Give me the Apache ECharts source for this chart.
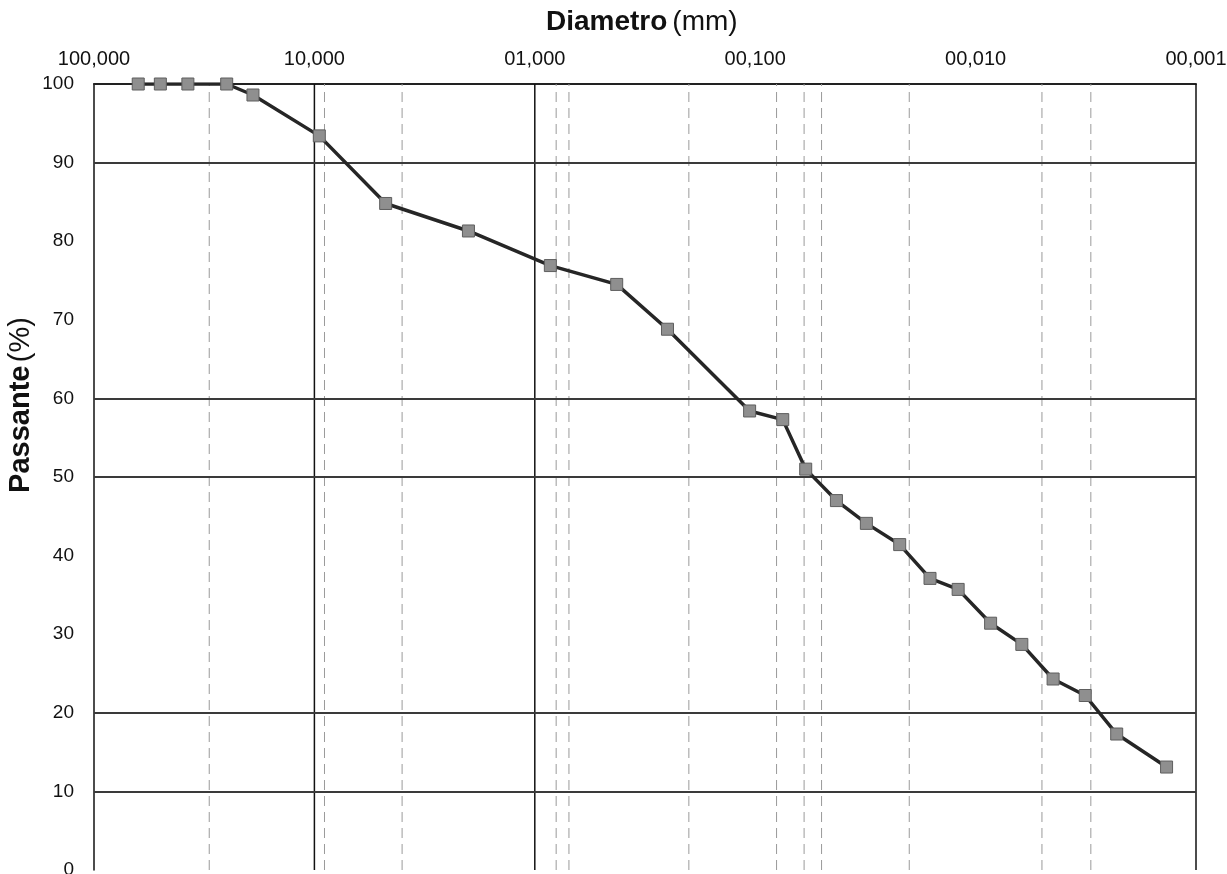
<!DOCTYPE html>
<html>
<head>
<meta charset="utf-8">
<script src="https://cdn.jsdelivr.net/npm/echarts@6/dist/echarts.min.js"></script>
<style>
html,body{margin:0;padding:0;background:#fff;}
#chart{width:1227px;height:874px;}
</style>
</head>
<body>
<div id="chart"></div>
<script>
// Grain size (mm) and percent passing
const diameters = [63, 50, 37.5, 25, 19, 9.5, 4.75, 2.0, 0.85, 0.425, 0.25, 0.106, 0.075,
  0.059, 0.0428, 0.0313, 0.0221, 0.0161, 0.0120, 0.00855, 0.00617, 0.00445, 0.00318, 0.00229, 0.00136];
const passing = [100, 100, 100, 100, 98.6, 93.4, 84.8, 81.3, 76.9, 74.5, 68.8, 58.4, 57.3,
  51.0, 47.0, 44.1, 41.4, 37.1, 35.7, 31.4, 28.7, 24.3, 22.2, 17.3, 13.1];

// Axis tick labels (by decade exponent -3..2)
const xTickLabels = ['00,001', '00,010', '00,100', '01,000', '10,000', '100,000'];
const yTicks = [0, 10, 20, 30, 40, 50, 60, 70, 80, 90, 100];

// Reference grid lines drawn on the chart
const majorVLines = [10, 1, 0.001];
const minorVLines = [30, 9, 4, 0.8, 0.7, 0.2, 0.08, 0.06, 0.05, 0.02, 0.005, 0.003];
const hLines = [90, 60, 50, 20, 10];

const chart = echarts.init(document.getElementById('chart'), null, {renderer: 'canvas'});
const FONT = '"Liberation Sans", Arial, sans-serif';
const yMin = yTicks[0], yMax = yTicks[yTicks.length - 1];

function vLineSeries(v, style) {
  return {
    type: 'line',
    data: [[v, yMin], [v, yMax]],
    symbol: 'none',
    silent: true,
    animation: false,
    lineStyle: style,
    z: 1
  };
}

const gridSeries = []
  .concat(majorVLines.map(v => vLineSeries(v, {color: '#111', width: 1.5, type: 'solid'})))
  .concat(minorVLines.map(v => vLineSeries(v, {color: '#9a9a9a', width: 1, type: [10, 6]})));

chart.setOption({
  backgroundColor: '#ffffff',
  animation: false,
  title: {
    text: '{b|Diametro} {n|(mm)}',
    left: 541,
    top: 3,
    textStyle: {
      rich: {
        b: {fontFamily: FONT, fontSize: 28, fontWeight: 'bold', color: '#111'},
        n: {fontFamily: FONT, fontSize: 28, fontWeight: 'normal', color: '#111'}
      }
    }
  },
  graphic: [{
    type: 'text',
    x: 21,
    y: 405,
    rotation: Math.PI / 2,
    style: {
      text: '{b|Passante} {n|(%)}',
      align: 'center',
      verticalAlign: 'middle',
      rich: {
        b: {fontFamily: FONT, fontSize: 29, fontWeight: 'bold', fill: '#111'},
        n: {fontFamily: FONT, fontSize: 29, fontWeight: 'normal', fill: '#111'}
      }
    }
  }],
  grid: {left: 94, right: 31, top: 84, bottom: 4, containLabel: false, outerBoundsMode: 'none'},
  xAxis: {
    type: 'log',
    logBase: 10,
    min: 0.001,
    max: 100,
    inverse: true,
    position: 'top',
    axisLine: {show: true, onZero: false, lineStyle: {color: '#222', width: 2}},
    axisTick: {show: false},
    splitLine: {show: false},
    minorSplitLine: {show: false},
    axisLabel: {
      margin: 15,
      fontFamily: FONT,
      fontSize: 20,
      color: '#111',
      formatter: v => xTickLabels[Math.round(Math.log10(v)) + 3]
    }
  },
  yAxis: {
    type: 'value',
    min: yMin,
    max: yMax,
    interval: 10,
    axisLine: {show: true, lineStyle: {color: '#111', width: 1.5}},
    axisTick: {show: false},
    splitLine: {show: false},
    axisLabel: {margin: 20, fontFamily: FONT, fontSize: 19, color: '#111'}
  },
  series: gridSeries.concat([{
    type: 'line',
    data: diameters.map((d, i) => [d, passing[i]]),
    lineStyle: {color: '#262626', width: 3.5},
    symbol: 'rect',
    symbolSize: 12,
    itemStyle: {color: '#8f8f8f', borderColor: '#5e5e5e', borderWidth: 1},
    z: 5,
    markLine: {
      silent: true,
      symbol: ['none', 'none'],
      label: {show: false},
      animation: false,
      data: hLines.map(v => ({yAxis: v, lineStyle: {color: '#3a3a3a', width: 2, type: 'solid'}}))
    }
  }])
});
</script>
</body>
</html>
